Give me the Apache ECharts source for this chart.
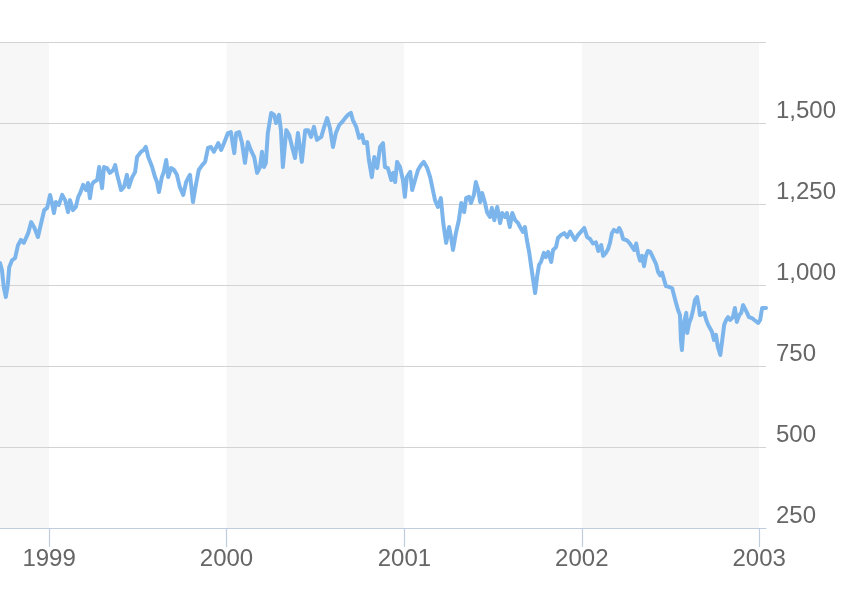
<!DOCTYPE html>
<html><head><meta charset="utf-8">
<script src="https://cdn.jsdelivr.net/npm/echarts@6/dist/echarts.min.js"></script>
<style>html,body{margin:0;padding:0;background:#fff}#c{width:862px;height:600px}</style>
</head><body><div id="c"></div>
<script>
const dates = [
'1998-09-22','1998-09-26','1998-09-30','1998-10-04','1998-10-08','1998-10-11','1998-10-17','1998-10-23','1998-10-29','1998-11-04',
'1998-11-10','1998-11-19','1998-11-25','1998-12-01','1998-12-05','1998-12-09','1998-12-13','1998-12-17','1998-12-22','1998-12-28',
'1999-01-03','1999-01-07','1999-01-11','1999-01-15','1999-01-21','1999-01-28','1999-02-03','1999-02-09','1999-02-13','1999-02-19',
'1999-02-25','1999-03-02','1999-03-06','1999-03-12','1999-03-18','1999-03-22','1999-03-26','1999-03-30','1999-04-03','1999-04-10',
'1999-04-14','1999-04-20','1999-04-24','1999-04-30','1999-05-06','1999-05-13','1999-05-17','1999-05-21','1999-05-25','1999-05-29',
'1999-06-04','1999-06-10','1999-06-14','1999-06-21','1999-06-27','1999-07-01','1999-07-05','1999-07-09','1999-07-15','1999-07-19',
'1999-07-24','1999-07-28','1999-08-01','1999-08-07','1999-08-11','1999-08-15','1999-08-21','1999-08-25','1999-08-30','1999-09-03',
'1999-09-09','1999-09-15','1999-09-21','1999-09-27','1999-10-04','1999-10-10','1999-10-14','1999-10-18','1999-10-24','1999-10-30',
'1999-11-05','1999-11-12','1999-11-18','1999-11-24','1999-11-30','1999-12-06','1999-12-15','1999-12-21','1999-12-27','2000-01-04',
'2000-01-10','2000-01-17','2000-01-21','2000-01-27','2000-02-02','2000-02-08','2000-02-14','2000-02-20','2000-02-27','2000-03-04',
'2000-03-10','2000-03-14','2000-03-18','2000-03-22','2000-03-26','2000-04-02','2000-04-08','2000-04-12','2000-04-18','2000-04-22',
'2000-04-26','2000-05-03','2000-05-09','2000-05-15','2000-05-21','2000-05-27','2000-05-31','2000-06-04','2000-06-11','2000-06-17',
'2000-06-23','2000-06-29','2000-07-05','2000-07-14','2000-07-20','2000-07-26','2000-08-01','2000-08-07','2000-08-13','2000-08-20',
'2000-08-26','2000-09-01','2000-09-07','2000-09-13','2000-09-17','2000-09-24','2000-09-30','2000-10-06','2000-10-10','2000-10-16',
'2000-10-20','2000-10-26','2000-10-31','2000-11-06','2000-11-12','2000-11-18','2000-11-22','2000-11-28','2000-12-05','2000-12-09',
'2000-12-13','2000-12-17','2000-12-23','2000-12-29','2001-01-02','2001-01-06','2001-01-13','2001-01-17','2001-01-23','2001-01-29',
'2001-02-04','2001-02-10','2001-02-17','2001-02-23','2001-02-27','2001-03-05','2001-03-11','2001-03-17','2001-03-22','2001-03-28',
'2001-04-03','2001-04-07','2001-04-11','2001-04-17','2001-04-23','2001-04-28','2001-05-04','2001-05-08','2001-05-14','2001-05-18',
'2001-05-24','2001-05-28','2001-06-02','2001-06-06','2001-06-10','2001-06-16','2001-06-20','2001-06-26','2001-06-30','2001-07-05',
'2001-07-11','2001-07-17','2001-07-21','2001-07-27','2001-07-31','2001-08-06','2001-08-11','2001-08-17','2001-08-23','2001-08-27',
'2001-09-02','2001-09-06','2001-09-10','2001-09-15','2001-09-19','2001-09-23','2001-09-27','2001-10-01','2001-10-05','2001-10-09',
'2001-10-15','2001-10-19','2001-10-24','2001-10-30','2001-11-03','2001-11-09','2001-11-13','2001-11-19','2001-11-26','2001-12-02',
'2001-12-08','2001-12-12','2001-12-18','2001-12-24','2001-12-30','2002-01-06','2002-01-12','2002-01-18','2002-01-24','2002-01-30',
'2002-02-04','2002-02-10','2002-02-14','2002-02-20','2002-02-24','2002-02-28','2002-03-04','2002-03-08','2002-03-15','2002-03-19',
'2002-03-23','2002-03-27','2002-03-31','2002-04-04','2002-04-10','2002-04-14','2002-04-19','2002-04-23','2002-04-27','2002-05-01',
'2002-05-05','2002-05-09','2002-05-13','2002-05-17','2002-05-22','2002-05-26','2002-05-30','2002-06-03','2002-06-07','2002-06-11',
'2002-06-15','2002-06-19','2002-06-23','2002-06-28','2002-07-02','2002-07-06','2002-07-10','2002-07-14','2002-07-18','2002-07-22',
'2002-07-24','2002-07-26','2002-07-30','2002-08-04','2002-08-06','2002-08-10','2002-08-14','2002-08-18','2002-08-22','2002-08-26',
'2002-08-30','2002-09-01','2002-09-05','2002-09-10','2002-09-14','2002-09-18','2002-09-22','2002-09-26','2002-09-30','2002-10-04',
'2002-10-08','2002-10-13','2002-10-17','2002-10-21','2002-10-25','2002-10-29','2002-11-02','2002-11-08','2002-11-12','2002-11-16',
'2002-11-21','2002-11-25','2002-11-29','2002-12-03','2002-12-07','2002-12-11','2002-12-17','2002-12-22','2002-12-26','2002-12-30',
'2003-01-03','2003-01-07','2003-01-11','2003-01-15'
];
const values = [
1068,1046,991,963,1000,1055,1077,1083,1123,1139,
1130,1160,1194,1179,1164,1148,1154,1200,1231,1238,
1278,1253,1222,1256,1247,1278,1262,1225,1262,1231,
1241,1272,1284,1309,1293,1315,1268,1309,1318,1324,
1364,1299,1364,1361,1346,1355,1370,1340,1318,1293,
1302,1340,1302,1333,1349,1395,1392,1411,1417,1426,
1395,1380,1364,1333,1318,1287,1333,1349,1386,1333,
1361,1355,1340,1302,1278,1318,1330,1340,1256,1309,
1355,1370,1380,1423,1426,1411,1438,1417,1438,1469,
1472,1407,1469,1472,1438,1377,1441,1417,1395,1346,
1364,1411,1364,1377,1469,1531,1525,1500,1525,1478,
1364,1478,1463,1426,1392,1469,1426,1380,1478,1478,
1457,1488,1448,1457,1488,1515,1484,1426,1469,1494,
1503,1515,1525,1531,1509,1488,1454,1463,1438,1441,
1386,1333,1395,1361,1426,1438,1364,1361,1324,1346,
1318,1380,1364,1324,1272,1333,1349,1293,1324,1355,
1370,1380,1361,1333,1330,1262,1241,1268,1191,1130,
1179,1148,1108,1160,1200,1253,1225,1268,1272,1253,
1278,1318,1293,1256,1284,1253,1225,1210,1238,1200,
1241,1191,1222,1210,1222,1179,1222,1200,1191,1179,
1164,1179,1139,1099,1056,1015,975,1025,1062,1071,
1099,1086,1102,1071,1108,1117,1145,1154,1160,1148,
1165,1170,1139,1154,1164,1176,1148,1142,1128,1132,
1105,1123,1090,1100,1111,1130,1160,1170,1164,1176,
1164,1142,1147,1138,1128,1130,1108,1128,1095,1075,
1090,1058,1090,1105,1102,1099,1077,1064,1040,1030,
1038,1018,997,995,997,990,985,944,923,907,
830,799,883,914,852,883,898,923,954,963,
932,907,901,914,892,877,877,855,830,846,
809,784,830,877,892,901,892,901,929,886,
907,914,938,932,914,901,898,892,898,883,
892,929,932,929
];
const yTickValues = [250, 500, 750, 1000, 1250, 1500, 1750];
const xRange = ['1998-09-22', '2003-01-15'];

const chart = echarts.init(document.getElementById('c'), null, {renderer: 'canvas'});
const FONT = 'Liberation Sans';
chart.setOption({
  animation: false,
  backgroundColor: '#ffffff',
  grid: {left: 0, right: 96, top: 42, bottom: 72, containLabel: false, outerBoundsMode: 'none'},
  xAxis: {
    type: 'time',
    z: 0,
    min: xRange[0], max: xRange[1],
    splitNumber: 4,
    minInterval: 365 * 24 * 3600 * 1000,
    axisLine: {show: true, lineStyle: {color: '#bfcddf', width: 1.2}},
    axisTick: {show: true, length: 19, lineStyle: {color: '#bfcddf', width: 1.2}},
    minorTick: {show: false},
    axisLabel: {formatter: '{yyyy}', color: '#666666', fontSize: 24, fontFamily: FONT, margin: 19, showMinLabel: false, showMaxLabel: false, hideOverlap: false},
    splitLine: {show: false},
    splitArea: {show: true, areaStyle: {color: ['#f7f7f7', '#ffffff']}}
  },
  yAxis: {
    type: 'value',
    z: 1,
    position: 'right',
    min: yTickValues[0], max: yTickValues[yTickValues.length - 1], interval: 250,
    axisLine: {show: false},
    axisTick: {show: false},
    axisLabel: {color: '#666666', fontSize: 24, fontFamily: FONT, margin: 10, verticalAlign: 'bottom', lineHeight: 24, showMaxLabel: false},
    splitLine: {show: true, showMinLine: false, lineStyle: {color: '#d3d3d3', width: 1.2}}
  },
  series: [{
    type: 'line',
    data: dates.map((d, i) => [d, values[i]]),
    showSymbol: false,
    symbol: 'none',
    lineStyle: {color: '#7cb5ec', width: 4, join: 'round', cap: 'round'},
    itemStyle: {color: '#7cb5ec'},
    z: 3
  }]
});
</script>
</body></html>
